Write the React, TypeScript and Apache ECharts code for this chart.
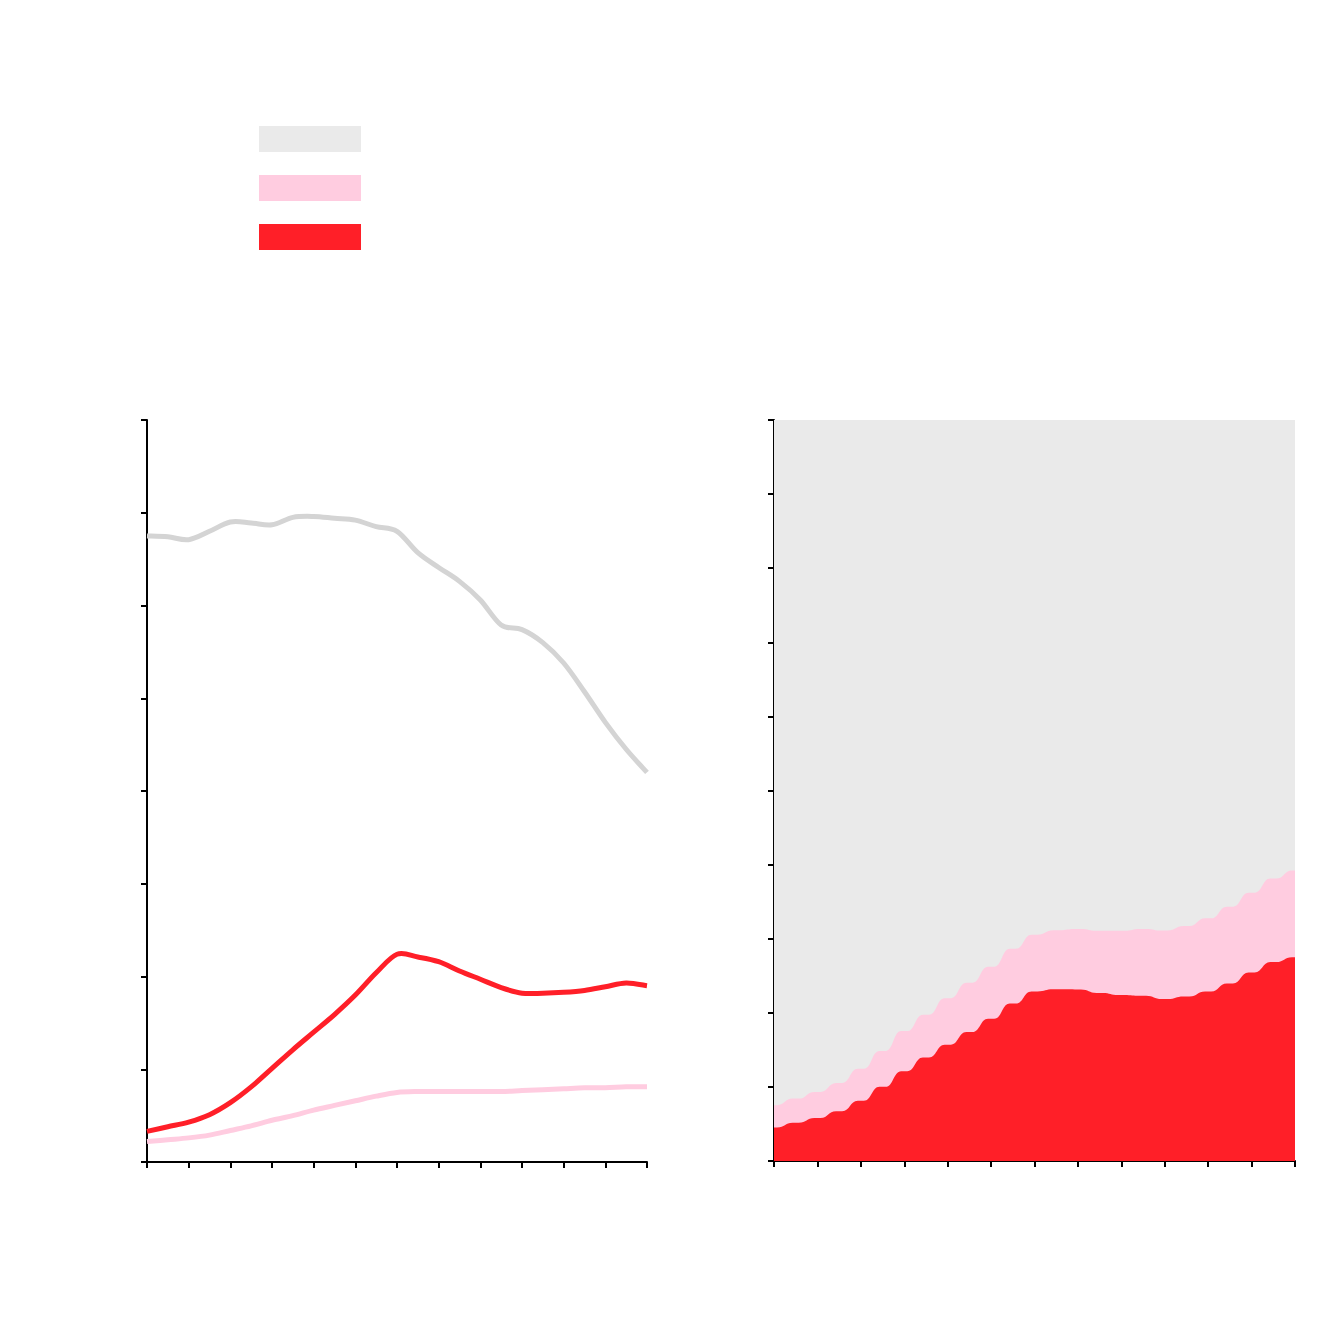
import React, { useEffect, useRef } from "react";
import * as echarts from "echarts";

const YEARS = [1990, 1991, 1992, 1993, 1994, 1995, 1996, 1997, 1998, 1999, 2000, 2001, 2002, 2003, 2004, 2005, 2006, 2007, 2008, 2009, 2010, 2011, 2012, 2013, 2014];

const GRAY = [67.5, 67.4, 67.1, 68.0, 69.0, 68.9, 68.7, 69.5, 69.6, 69.4, 69.2, 68.5, 68.0, 65.7, 64.1, 62.6, 60.6, 57.9, 57.4, 56.0, 53.8, 50.7, 47.4, 44.5, 42.0];
const PINK = [2.2, 2.4, 2.6, 2.9, 3.4, 3.9, 4.5, 5.0, 5.6, 6.1, 6.6, 7.1, 7.5, 7.6, 7.6, 7.6, 7.6, 7.6, 7.7, 7.8, 7.9, 8.0, 8.0, 8.1, 8.1];
const RED = [3.3, 3.8, 4.3, 5.1, 6.4, 8.1, 10.1, 12.1, 14.0, 15.9, 18.0, 20.4, 22.4, 22.1, 21.6, 20.6, 19.7, 18.8, 18.2, 18.2, 18.3, 18.5, 18.9, 19.3, 19.0];

const NAMES = ["Gray", "Pink", "Red"];
const LINE_COLORS = ["#d4d4d4", "#ffcce0", "#ff1f28"];
const AREA_COLORS = ["#eaeaea", "#ffcce0", "#ff1f28"];

export default function App() {
  const ref = useRef<HTMLDivElement>(null);

  useEffect(() => {
    if (!ref.current) return;
    const chart = echarts.init(ref.current, undefined, { renderer: "svg" });

    const totals = YEARS.map((_, i) => GRAY[i] + PINK[i] + RED[i]);
    const redShare = YEARS.map((_, i) => (RED[i] / totals[i]) * 100);
    const pinkCum = YEARS.map((_, i) => ((RED[i] + PINK[i]) / totals[i]) * 100);
    const full = YEARS.map(() => 100);

    // Smoothed stepped stacked area (right panel)
    const h = 0.36;
    const makeAreaRender = (upper: number[], color: string) => (params: any, api: any) => {
      const n = YEARS.length;
      const c = (x: number, y: number) => api.coord([x, y]);
      const parts: string[] = [];
      const p0 = c(YEARS[0], upper[0]);
      parts.push(`M${p0[0]},${p0[1]}`);
      for (let i = 0; i < n - 1; i++) {
        const x = YEARS[i];
        const a = c(x + 0.5 - h, upper[i]);
        const c1 = c(x + 0.5, upper[i]);
        const c2 = c(x + 0.5, upper[i + 1]);
        const b = c(x + 0.5 + h, upper[i + 1]);
        parts.push(`L${a[0]},${a[1]}`);
        parts.push(`C${c1[0]},${c1[1]} ${c2[0]},${c2[1]} ${b[0]},${b[1]}`);
      }
      const pe = c(YEARS[n - 1], upper[n - 1]);
      parts.push(`L${pe[0]},${pe[1]}`);
      const be = c(YEARS[n - 1], 0);
      const bs = c(YEARS[0], 0);
      parts.push(`L${be[0]},${be[1]}`);
      parts.push(`L${bs[0]},${bs[1]}`);
      parts.push("Z");
      return {
        type: "path",
        shape: { pathData: parts.join(" ") },
        style: { fill: color, stroke: null },
      };
    };

    // Catmull-Rom smoothed line (left panel)
    const makeLineRender = (vals: number[], color: string) => (params: any, api: any) => {
      const P = YEARS.map((y, i) => api.coord([y, vals[i]]));
      const n = P.length;
      const parts: string[] = [`M${P[0][0]},${P[0][1]}`];
      for (let i = 0; i < n - 1; i++) {
        const p0 = P[Math.max(0, i - 1)];
        const p1 = P[i];
        const p2 = P[i + 1];
        const p3 = P[Math.min(n - 1, i + 2)];
        const c1x = p1[0] + (p2[0] - p0[0]) / 6;
        const c1y = p1[1] + (p2[1] - p0[1]) / 6;
        const c2x = p2[0] - (p3[0] - p1[0]) / 6;
        const c2y = p2[1] - (p3[1] - p1[1]) / 6;
        parts.push(`C${c1x},${c1y} ${c2x},${c2y} ${p2[0]},${p2[1]}`);
      }
      return {
        type: "path",
        shape: { pathData: parts.join(" ") },
        style: { fill: null, stroke: color, lineWidth: 5, lineJoin: "round" },
      };
    };

    const axisLine = { show: true, lineStyle: { color: "#000", width: 2 } };
    const axisTick = { show: true, length: 6, inside: false, lineStyle: { color: "#000", width: 2 } };

    const xAxisBase = {
      type: "value",
      min: 1990,
      max: 2014,
      interval: 2,
      axisLine,
      axisTick,
      axisLabel: { show: false },
      splitLine: { show: false },
    };

    chart.setOption({
      animation: false,
      backgroundColor: "#fff",
      legend: {
        orient: "vertical",
        left: 259,
        top: 126,
        padding: 0,
        itemWidth: 102,
        itemHeight: 26,
        itemGap: 23,
        icon: "rect",
        selectedMode: false,
        formatter: () => "",
        data: NAMES.map((n, i) => ({ name: n, itemStyle: { color: AREA_COLORS[i] } })),
      },
      grid: [
        { left: 147, top: 420, width: 500, height: 742 },
        { left: 774, top: 420, width: 521, height: 741 },
      ],
      xAxis: [
        { ...xAxisBase, gridIndex: 0 },
        { ...xAxisBase, gridIndex: 1 },
      ],
      yAxis: [
        {
          type: "value",
          gridIndex: 0,
          min: 0,
          max: 80,
          interval: 10,
          axisLine,
          axisTick,
          axisLabel: { show: false },
          splitLine: { show: false },
        },
        {
          type: "value",
          gridIndex: 1,
          min: 0,
          max: 100,
          interval: 10,
          axisLine,
          axisTick,
          axisLabel: { show: false },
          splitLine: { show: false },
        },
      ],
      series: [
        ...[GRAY, PINK, RED].map((arr, k) => ({
          name: NAMES[k],
          type: "custom",
          xAxisIndex: 0,
          yAxisIndex: 0,
          itemStyle: { color: LINE_COLORS[k] },
          renderItem: makeLineRender(arr, LINE_COLORS[k]),
          data: [[YEARS[0], arr[0]]],
          z: 3 + k,
        })),
        ...[full, pinkCum, redShare].map((up, k) => ({
          name: NAMES[k],
          type: "custom",
          xAxisIndex: 1,
          yAxisIndex: 1,
          itemStyle: { color: AREA_COLORS[k] },
          renderItem: makeAreaRender(up, AREA_COLORS[k]),
          data: [[YEARS[0], 0]],
          z: 1 + k * 0.1,
        })),
      ],
    });

    return () => chart.dispose();
  }, []);

  return (
    <div
      ref={ref}
      style={{ position: "absolute", left: 0, top: 0, width: 1320, height: 1340 }}
    />
  );
}
